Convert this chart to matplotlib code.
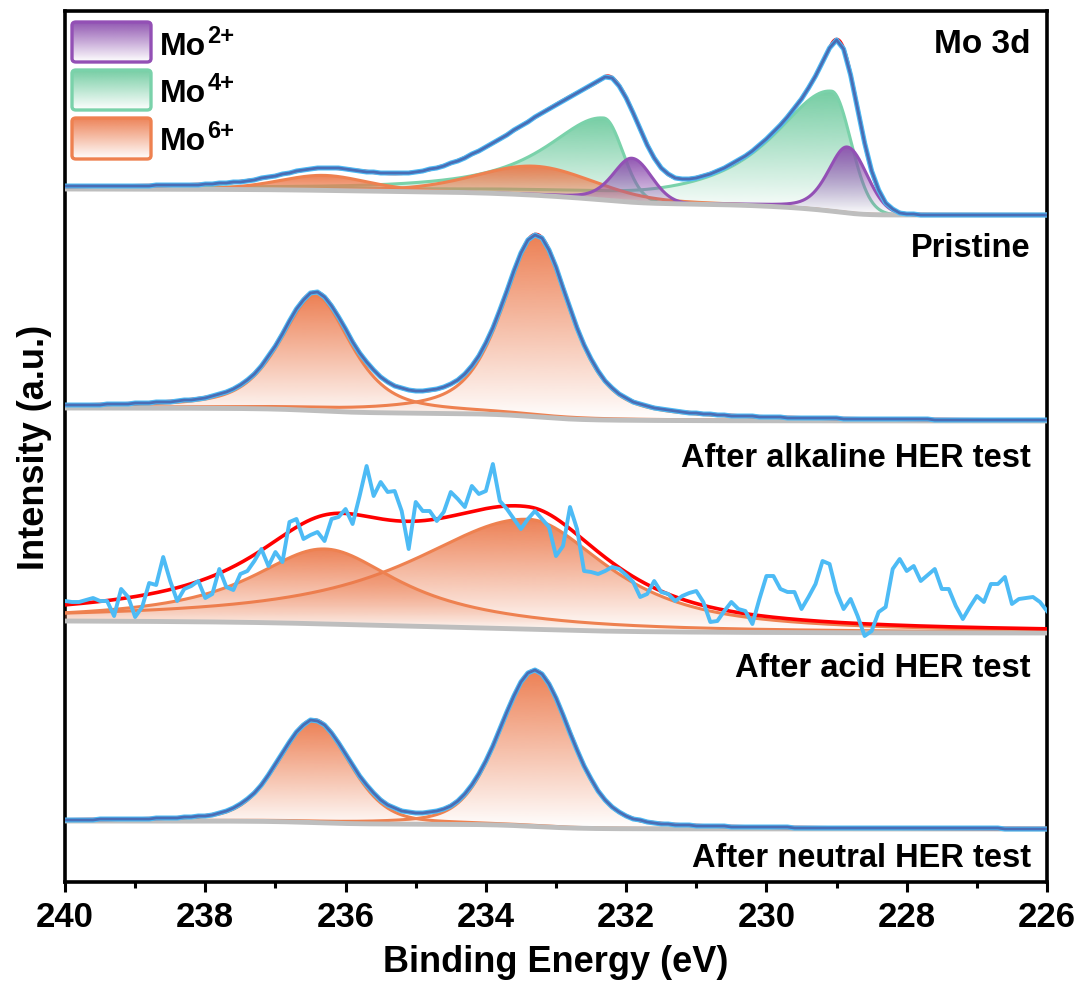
import numpy as np
import matplotlib
matplotlib.use("Agg")
import matplotlib.pyplot as plt
from matplotlib.patches import FancyBboxPatch, Polygon
from matplotlib.colors import to_rgb

plt.rcParams['font.family'] = ['Liberation Sans', 'DejaVu Sans']
plt.rcParams['font.weight'] = 'bold'

# ---------------- data ----------------
energy = np.round(np.arange(240.0, 225.95, -0.1), 1)   # measured grid, 0.1 eV step
fine = np.linspace(240.0, 226.0, 1401)                  # grid for fitted curves

pristine_counts = [43, 43, 43, 43, 43, 43, 43, 43, 43, 43, 43, 43, 43, 44, 44, 44, 44, 44, 44, 44,
                   45, 45, 46, 46, 47, 47, 48, 49, 51, 52, 53, 55, 56, 58, 59, 60, 61, 61, 61, 61,
                   60, 59, 58, 57, 57, 56, 56, 56, 56, 56, 57, 58, 60, 61, 63, 66, 68, 71, 75, 78,
                   82, 86, 90, 94, 99, 103, 107, 112, 116, 120, 124, 128, 132, 136, 140, 144, 148, 152, 151, 143,
                   131, 116, 100, 84, 71, 61, 55, 51, 50, 50, 51, 53, 55, 58, 61, 65, 69, 73, 78, 84,
                   90, 97, 104, 112, 121, 130, 141, 153, 167, 181, 189, 180, 154, 120, 86, 58, 39, 26, 20, 16,
                   15, 15, 14, 14, 14, 14, 14, 14, 14, 14, 14, 14, 14, 14, 14, 14, 14, 14, 14, 14, 14]

alkaline_counts = [24, 24, 24, 24, 24, 24, 25, 25, 25, 25, 26, 26, 26, 27, 27, 27, 28, 29, 29, 30,
                   31, 33, 35, 37, 40, 44, 49, 55, 63, 73, 83, 95, 108, 120, 129, 136, 137, 132, 123, 112,
                   100, 87, 76, 67, 59, 52, 47, 43, 41, 39, 38, 38, 39, 40, 42, 45, 49, 55, 63, 73,
                   86, 101, 119, 138, 158, 176, 189, 194, 191, 179, 162, 141, 121, 101, 84, 70, 58, 48, 41, 35,
                   31, 27, 25, 23, 21, 20, 19, 18, 17, 16, 16, 15, 15, 14, 14, 13, 13, 13, 13, 12,
                   12, 12, 12, 11, 11, 11, 11, 11, 11, 11, 11, 10, 10, 10, 10, 10, 10, 10, 10, 10,
                   10, 10, 10, 10, 9, 9, 9, 9, 9, 9, 9, 9, 9, 9, 9, 9, 9, 9, 9, 9, 9]

acid_counts = [38, 37, 37, 39, 41, 38, 38, 23, 50, 42, 22, 32, 56, 54, 82, 58, 38, 50, 53, 58,
               41, 45, 70, 52, 49, 65, 68, 78, 90, 73, 87, 77, 117, 120, 100, 104, 107, 98, 120, 122,
               130, 115, 143, 173, 143, 157, 147, 148, 128, 90, 137, 128, 128, 118, 127, 147, 140, 132, 153, 145,
               148, 175, 138, 130, 120, 110, 120, 128, 120, 112, 83, 93, 132, 110, 68, 67, 65, 68, 72, 70,
               64, 57, 42, 45, 58, 47, 45, 38, 43, 46, 48, 37, 17, 18, 28, 37, 30, 28, 15, 40,
               63, 63, 50, 47, 47, 30, 42, 55, 78, 75, 47, 30, 40, 23, 3, 8, 27, 32, 70, 80,
               68, 73, 58, 64, 70, 50, 50, 33, 20, 32, 43, 37, 55, 55, 62, 35, 40, 41, 42, 37, 28]

neutral_counts = [29, 29, 29, 29, 29, 30, 30, 30, 30, 30, 30, 30, 30, 31, 31, 31, 31, 32, 32, 33,
                  33, 34, 36, 38, 41, 45, 50, 56, 64, 74, 85, 96, 107, 117, 124, 129, 128, 124, 116, 106,
                  95, 84, 73, 64, 56, 49, 44, 41, 38, 37, 36, 36, 37, 38, 40, 43, 48, 55, 64, 75,
                  88, 103, 120, 137, 153, 167, 176, 179, 175, 165, 151, 134, 116, 99, 83, 70, 58, 49, 42, 37,
                  33, 30, 29, 27, 26, 25, 25, 24, 24, 24, 23, 23, 23, 23, 23, 22, 22, 22, 22, 22,
                  22, 22, 22, 22, 21, 21, 21, 21, 21, 21, 21, 21, 21, 21, 21, 21, 21, 21, 21, 21,
                  21, 21, 21, 21, 21, 21, 21, 21, 21, 21, 21, 21, 21, 21, 20, 20, 20, 20, 20, 20, 20]

# fitted components: oxidation state, centre (eV), height, HWHM on high-BE / low-BE side,
# Lorentzian fraction on high-BE / low-BE side
pristine_state = ['Mo4+', 'Mo4+', 'Mo6+', 'Mo6+', 'Mo2+', 'Mo2+']
pristine_center = [229.07, 232.32, 233.30, 236.32, 228.85, 231.92]
pristine_height = [120, 82, 29, 15, 66, 44]
pristine_w_hi = [1.00, 1.00, 1.00, 0.75, 0.32, 0.32]
pristine_w_lo = [0.32, 0.32, 1.00, 0.75, 0.33, 0.33]
pristine_m_hi = [0.9, 0.9, 0.3, 0.3, 0.4, 0.4]
pristine_m_lo = [0.0, 0.0, 0.3, 0.3, 0.0, 0.0]
pristine_bg = (40, 14)

alkaline_state = ['Mo6+', 'Mo6+']
alkaline_center = [233.28, 236.43]
alkaline_height = [180, 115]
alkaline_w_hi = [0.58, 0.60]
alkaline_w_lo = [0.58, 0.60]
alkaline_m_hi = [0.6, 0.6]
alkaline_m_lo = [0.6, 0.6]
alkaline_bg = (21, 8)

acid_state = ['Mo6+', 'Mo6+']
acid_center = [233.40, 236.30]
acid_height = [110, 75]
acid_w_hi = [2.00, 1.30]
acid_w_lo = [1.35, 1.30]
acid_m_hi = [0.85, 1.0]
acid_m_lo = [0.85, 1.0]
acid_bg = (18, 6)

neutral_state = ['Mo6+', 'Mo6+']
neutral_center = [233.30, 236.45]
neutral_height = [155, 101]
neutral_w_hi = [0.60, 0.60]
neutral_w_lo = [0.60, 0.60]
neutral_m_hi = [0.3, 0.3]
neutral_m_lo = [0.3, 0.3]
neutral_bg = (28, 20)

sample_labels = ['Pristine', 'After alkaline HER test', 'After acid HER test', 'After neutral HER test']
stack_offsets = [653, 453, 243, 33]

state_fill = {'Mo2+': '#8C4FAE', 'Mo4+': '#6FCB9F', 'Mo6+': '#EC7A4C'}
state_line = {'Mo2+': '#9350B5', 'Mo4+': '#7AD2AA', 'Mo6+': '#EE8150'}
legend_states = ['Mo2+', 'Mo4+', 'Mo6+']
legend_charge = ['2+', '4+', '6+']

xticks_major = [240, 238, 236, 234, 232, 230, 228, 226]
xticks_minor = [239, 237, 235, 233, 231, 229, 227]


# ---------------- helpers ----------------
def peak(e, c, h, w_hi, w_lo, m_hi, m_lo):
    """Asymmetric pseudo-Voigt (Gaussian/Lorentzian mix) line shape."""
    d = e - c
    w = np.where(d > 0, w_hi, w_lo)
    m = np.where(d > 0, m_hi, m_lo)
    u = (d / w) ** 2
    return h * (m / (1.0 + u) + (1.0 - m) * np.exp(-np.log(2.0) * u))


def shirley(total, high, low):
    """Shirley-type step background on a descending energy grid."""
    cum = np.cumsum(total[::-1])[::-1]
    return low + (high - low) * cum / cum[0]


def gradient_fill(ax, x, lower, upper, color, z):
    verts = np.vstack([np.column_stack([x, upper]),
                       np.column_stack([x[::-1], lower[::-1]])])
    clip = Polygon(verts, closed=True, facecolor='none', edgecolor='none')
    ax.add_patch(clip)
    n = 256
    img = np.zeros((n, 1, 4))
    img[..., :3] = to_rgb(color)
    img[..., 3] = 0.95 * np.linspace(0.0, 1.0, n)[:, None]
    im = ax.imshow(img, origin='lower', aspect='auto', interpolation='bilinear',
                   extent=[x.min(), x.max(), lower.min(), upper.max()], zorder=z)
    im.set_clip_path(clip)


fig = plt.figure(figsize=(10.82, 9.87), dpi=100)
ax = fig.add_axes([65 / 1082, 1 - 883 / 987, 982 / 1082, 871 / 987])

spectra = [
    (pristine_state, pristine_center, pristine_height, pristine_w_hi, pristine_w_lo,
     pristine_m_hi, pristine_m_lo, pristine_bg),
    (alkaline_state, alkaline_center, alkaline_height, alkaline_w_hi, alkaline_w_lo,
     alkaline_m_hi, alkaline_m_lo, alkaline_bg),
    (acid_state, acid_center, acid_height, acid_w_hi, acid_w_lo,
     acid_m_hi, acid_m_lo, acid_bg),
    (neutral_state, neutral_center, neutral_height, neutral_w_hi, neutral_w_lo,
     neutral_m_hi, neutral_m_lo, neutral_bg),
]
measured = [pristine_counts, alkaline_counts, acid_counts, neutral_counts]
draw_order = {'Mo4+': 0, 'Mo6+': 1, 'Mo2+': 2}

for k, (states, cen, hei, whi, wlo, mhi, mlo, bg) in enumerate(spectra):
    off = stack_offsets[k]
    comps = [peak(fine, c, h, a, b, p, q) for c, h, a, b, p, q in zip(cen, hei, whi, wlo, mhi, mlo)]
    total = np.sum(comps, axis=0)
    base = shirley(total, bg[0], bg[1])
    env = base + total

    # fitted components with gradient fills
    idx = sorted(range(len(states)), key=lambda i: draw_order[states[i]])
    for n, i in enumerate(idx):
        st = states[i]
        gradient_fill(ax, fine, base + off, base + comps[i] + off, state_fill[st], 3 + n * 0.1)
        ax.plot(fine, base + comps[i] + off, color=state_line[st], lw=2.2, zorder=3.05 + n * 0.1)
    # background, envelope
    ax.plot(fine, base + off, color='#BEBEBE', lw=3.5, zorder=4, solid_capstyle='butt')
    ax.plot(fine, env + off, color='#FF0000', lw=2.6, zorder=5)

    # measured spectrum
    meas = np.asarray(measured[k], dtype=float) + off
    if k == 2:
        ax.plot(energy, meas, color='#4DBBF5', lw=2.8, zorder=6)
    else:
        ax.plot(energy, meas, color='#4DBBF5', lw=3.6, zorder=6)
        ax.plot(energy, meas, color='#4A6DB5', lw=2.0, zorder=6.5)


def fy(py):
    return (883 - py) / 871


# legend
fig.canvas.draw()
renderer = fig.canvas.get_renderer()
for st, chg, top, bot, base_y in zip(legend_states, legend_charge, [23, 71, 119], [63, 111, 160], [55, 102, 150]):
    x0, w = (72 - 65) / 982, 79 / 982
    y0, h = fy(bot), fy(top) - fy(bot)
    box = FancyBboxPatch((x0, y0), w, h, boxstyle='round,pad=0,rounding_size=0.004',
                         transform=ax.transAxes, facecolor='none', edgecolor=state_line[st],
                         lw=2.4, zorder=11)
    ax.add_patch(box)
    n = 256
    img = np.zeros((n, 1, 4))
    img[..., :3] = to_rgb(state_fill[st])
    img[..., 3] = np.linspace(0.0, 0.95, n)[:, None]
    im = ax.imshow(img, origin='lower', aspect='auto', extent=[x0, x0 + w, y0, y0 + h],
                   transform=ax.transAxes, zorder=10)
    im.set_clip_path(box)
    t = ax.text((160 - 65) / 982, fy(base_y), 'Mo', transform=ax.transAxes, fontsize=23,
                fontweight='bold', ha='left', va='baseline', zorder=12)
    bb = t.get_window_extent(renderer)
    fig.text((bb.x1 + 1) / fig.bbox.width, (987 - base_y + 12) / 987, chg, fontsize=17,
             fontweight='bold', ha='left', va='baseline', zorder=12)

ax.text(0.9837, fy(53), 'Mo 3d', transform=ax.transAxes, fontsize=24, fontweight='bold',
        ha='right', va='baseline')
for lab, by in zip(sample_labels, [257, 467, 677, 867]):
    ax.text(0.9837, fy(by), lab, transform=ax.transAxes, fontsize=23.5, fontweight='bold',
            ha='right', va='baseline')

ax.set_xlim(240, 226)
ax.set_ylim(0, 871)
ax.set_yticks([])
ax.set_xticks(xticks_major)
ax.set_xticks(xticks_minor, minor=True)
ax.set_xticklabels([str(t) for t in xticks_major])
for lab in ax.get_xticklabels():
    lab.set_fontweight('bold')
    lab.set_fontsize(25)
ax.tick_params(axis='x', which='major', direction='out', length=7, width=2.2, pad=6)
ax.tick_params(axis='x', which='minor', direction='out', length=4, width=2.2)
for sp in ax.spines.values():
    sp.set_linewidth(2.6)

ax.set_xlabel('Binding Energy (eV)', fontsize=26, fontweight='bold')
ax.xaxis.label.set_va('center')
ax.xaxis.set_label_coords(0.5, (883 - 963) / 871)
ax.set_ylabel('Intensity (a.u.)', fontsize=26, fontweight='bold')
ax.yaxis.label.set_va('center')
ax.yaxis.set_label_coords((35 - 65) / 982, 0.5)

fig.savefig('out.png', dpi=100)
